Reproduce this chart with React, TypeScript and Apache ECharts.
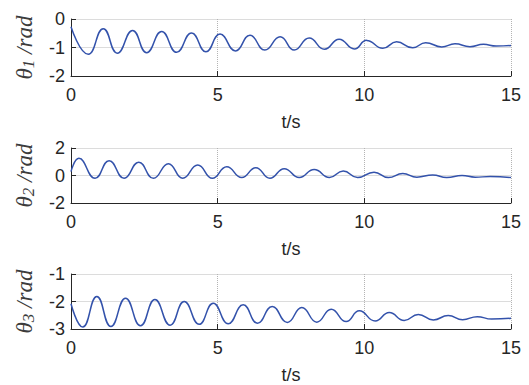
import React, { useEffect, useRef } from "react";
import * as echarts from "echarts";

// theta1 extrema
const t1 = [0, 0.59, 1.1, 1.58, 2.1, 2.58, 3.09, 3.6, 4.11, 4.6, 5.08, 5.61, 6.1, 6.61, 7.13, 7.61, 8.12, 8.64, 9.14, 9.66, 10.08, 10.63, 11.1, 11.65, 12.09, 12.64, 13.09, 13.6, 14.06, 14.5, 15];
const v1 = [-0.27, -1.24, -0.34, -1.2, -0.4, -1.18, -0.44, -1.17, -0.49, -1.15, -0.53, -1.12, -0.57, -1.09, -0.62, -1.09, -0.67, -1.06, -0.71, -1.05, -0.75, -1.03, -0.8, -1.01, -0.83, -0.98, -0.87, -0.97, -0.89, -0.95, -0.93];

const t2 = [0, 0.27, 0.82, 1.3, 1.81, 2.31, 2.81, 3.32, 3.81, 4.32, 4.82, 5.31, 5.82, 6.3, 6.78, 7.27, 7.78, 8.29, 8.81, 9.28, 9.77, 10.33, 10.82, 11.31, 11.79, 12.33, 12.81, 13.33, 13.78, 14.29, 15];
const v2 = [0.28, 1.25, -0.2, 1.08, -0.2, 0.96, -0.2, 0.86, -0.2, 0.77, -0.2, 0.64, -0.15, 0.57, -0.2, 0.5, -0.15, 0.43, -0.15, 0.33, -0.15, 0.24, -0.15, 0.14, -0.12, 0.04, -0.15, 0.0, -0.12, -0.08, -0.15];

const t3 = [0, 0.4, 0.88, 1.36, 1.86, 2.37, 2.86, 3.38, 3.86, 4.37, 4.85, 5.36, 5.87, 6.36, 6.86, 7.375, 7.87, 8.38, 8.87, 9.38, 9.83, 10.37, 10.85, 11.36, 11.84, 12.35, 12.86, 13.35, 13.85, 14.34, 15];
const v3 = [-2.08, -2.93, -1.82, -2.91, -1.88, -2.88, -1.93, -2.86, -2.0, -2.83, -2.06, -2.81, -2.12, -2.79, -2.18, -2.76, -2.22, -2.75, -2.28, -2.73, -2.34, -2.71, -2.4, -2.69, -2.47, -2.67, -2.51, -2.66, -2.55, -2.64, -2.61];

const xTicks = [0, 5, 10, 15];
const yRanges = [
  { min: -2, max: 0, interval: 1 },
  { min: -2, max: 2, interval: 2 },
  { min: -3, max: -1, interval: 1 },
];
const subs = ["1", "2", "3"];

export default function App() {
  const ref = useRef<HTMLDivElement>(null);
  useEffect(() => {
    const chart = echarts.init(ref.current!, null, { renderer: "svg" });
    const ts = [t1, t2, t3];
    const vs = [v1, v2, v3];
    const grids = [
      { left: 71, width: 440, top: 19, height: 57 },
      { left: 71, width: 440, top: 148, height: 55 },
      { left: 71, width: 440, top: 274, height: 57 },
    ];
    const axisColor = "#262626";
    const font = "'Liberation Sans', Arial, sans-serif";
    const serif = "'Liberation Serif', 'Times New Roman', serif";
    chart.setOption({
      animation: false,
      grid: grids,
      xAxis: grids.map((_, i) => ({
        type: "value",
        gridIndex: i,
        min: xTicks[0],
        max: xTicks[xTicks.length - 1],
        interval: 5,
        name: "t/s",
        nameLocation: "middle",
        nameGap: 37,
        nameTextStyle: { color: axisColor, fontSize: 18, fontFamily: font },
        axisLine: { show: true, onZero: false, lineStyle: { color: axisColor, width: 1 } },
        axisTick: { show: true, inside: true, length: 5, lineStyle: { color: axisColor } },
        axisLabel: { color: axisColor, fontSize: 18, fontFamily: font, margin: 10 },
        splitLine: { show: true, lineStyle: { color: "#b4b4b4", type: "dotted", width: 1 } },
      })),
      yAxis: grids.map((_, i) => ({
        type: "value",
        gridIndex: i,
        min: yRanges[i].min,
        max: yRanges[i].max,
        interval: yRanges[i].interval,
        name: `{th|θ}{sub|${subs[i]}}{u| /rad}`,
        nameLocation: "middle",
        nameGap: 34,
        nameTextStyle: {
          rich: {
            th: { fontFamily: serif, fontStyle: "italic", fontSize: 23, color: "#3c3c3c", lineHeight: 26 },
            sub: { fontFamily: serif, fontStyle: "italic", fontSize: 17, color: "#3c3c3c", lineHeight: 12, verticalAlign: "bottom" },
            u: { fontFamily: serif, fontStyle: "italic", fontSize: 23, color: "#3c3c3c", lineHeight: 26 },
          },
        },
        axisLine: { show: true, onZero: false, lineStyle: { color: axisColor, width: 1 } },
        axisTick: { show: true, inside: true, length: 5, lineStyle: { color: axisColor } },
        axisLabel: { color: axisColor, fontSize: 18, fontFamily: font, margin: 6 },
        splitLine: { show: true, lineStyle: { color: "#dcdcdc", width: 1 } },
      })),
      series: ts.map((t, i) => ({
        type: "line",
        xAxisIndex: i,
        yAxisIndex: i,
        data: t.map((x, j) => [x, vs[i][j]]),
        smooth: 0.5,
        showSymbol: false,
        lineStyle: { color: "#3352ab", width: 1.5 },
      })),
    });
    return () => chart.dispose();
  }, []);
  return <div ref={ref} style={{ width: 529, height: 385, position: "absolute", left: 0, top: 0, background: "#fff" }} />;
}
